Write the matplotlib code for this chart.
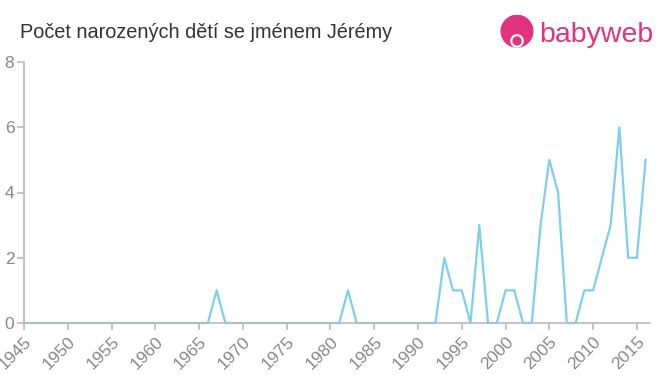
import matplotlib
matplotlib.use("Agg")
from matplotlib import pyplot as plt
from matplotlib.patches import Circle

plt.rcParams['font.family'] = ['Liberation Sans', 'DejaVu Sans']

# data
roky = list(range(1945, 2017))
pocty = [0] * len(roky)
hodnoty = {1967: 1, 1982: 1, 1993: 2, 1994: 1, 1995: 1, 1997: 3,
           2000: 1, 2001: 1, 2004: 3, 2005: 5, 2006: 4, 2009: 1, 2010: 1,
           2011: 2, 2012: 3, 2013: 6, 2014: 2, 2015: 2, 2016: 5}
for rok, n in hodnoty.items():
    pocty[roky.index(rok)] = n

x_ticks = list(range(1945, 2016, 5))
y_ticks = [0, 2, 4, 6, 8]

titulek = 'Počet narozených dětí se jménem Jérémy'
seda = '#888888'
ruzova = '#e0357e'

fig = plt.figure(figsize=(6.6, 3.75), dpi=100)
ax = fig.add_axes([24 / 660, 52 / 375, 626 / 660, 261 / 375])

ax.plot(roky, pocty, color='#7ecfec', linewidth=1.6, clip_on=False)

ax.set_xlim(1945, 2016.5)
ax.set_ylim(0, 8)
ax.set_xticks(x_ticks)
ax.set_yticks(y_ticks)
ax.set_xticklabels([str(r) for r in x_ticks], rotation=45, ha='right',
                   rotation_mode='anchor')

for s in ['top', 'right']:
    ax.spines[s].set_visible(False)
for s in ['left', 'bottom']:
    ax.spines[s].set_color('#bbbbbb')
    ax.spines[s].set_linewidth(1.2)
ax.tick_params(axis='both', colors='#bbbbbb', labelcolor=seda, labelsize=12.5,
               length=5, width=1.2)
ax.tick_params(axis='y', pad=2)
ax.tick_params(axis='x', pad=3)

fig.text(20 / 660, 1 - 32 / 375, titulek, fontsize=14.3, color='#333333',
         va='center', ha='left')

# logo
logo_ax = fig.add_axes([499 / 660, 1 - 51 / 375, 36 / 660, 36 / 375])
logo_ax.set_xlim(0, 1)
logo_ax.set_ylim(0, 1)
logo_ax.set_aspect('equal')
logo_ax.axis('off')
logo_ax.add_patch(Circle((0.5, 0.55), 0.44, color=ruzova))
logo_ax.add_patch(Circle((0.5, 0.28), 0.17, color='white'))
logo_ax.add_patch(Circle((0.5, 0.28), 0.11, color=ruzova))
fig.text(539 / 660, 1 - 35 / 375, 'babyweb', fontsize=20.5, color=ruzova,
         va='center', ha='left')

fig.savefig('out.png', dpi=100)
